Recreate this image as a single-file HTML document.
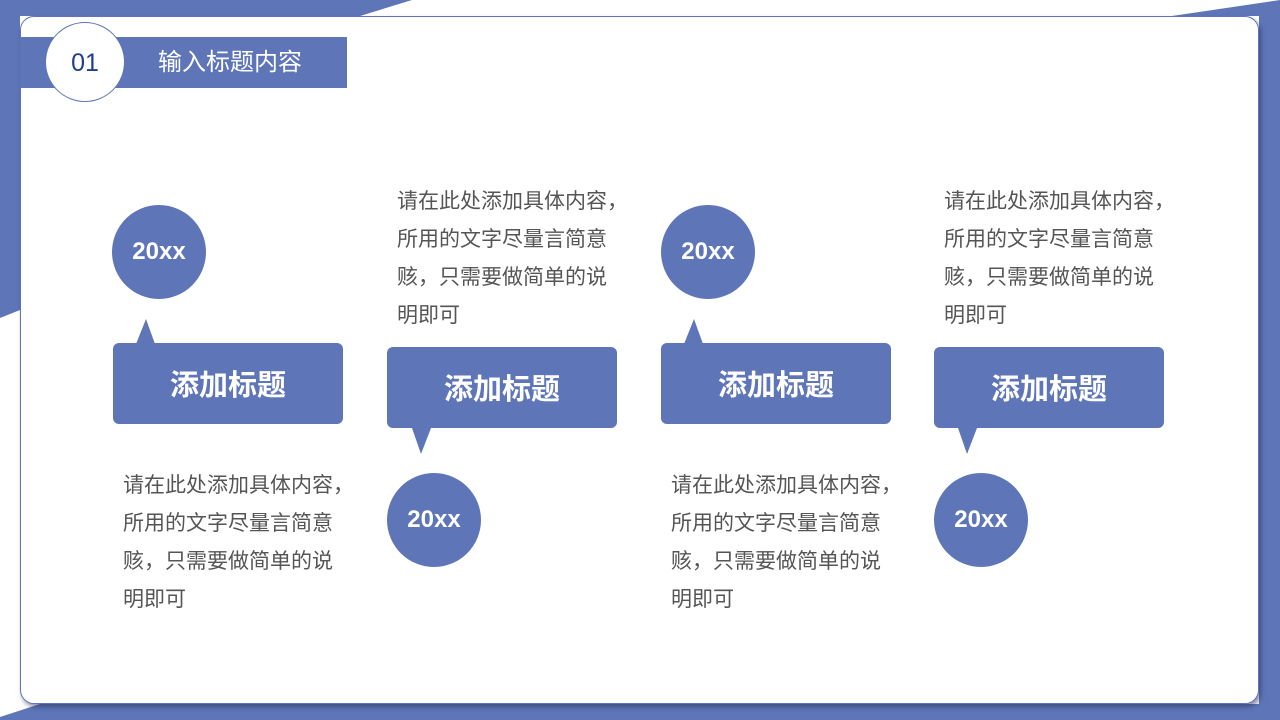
<!DOCTYPE html>
<html><head><meta charset="utf-8"><style>
body{margin:0;width:1280px;height:720px;position:relative;overflow:hidden;background:#fff;font-family:"Liberation Sans","Noto Sans CJK SC",sans-serif}
.a{position:absolute}
.card{left:20px;top:16px;width:1239px;height:688px;background:#fff;border-radius:14px;box-shadow:2px 3px 5px rgba(40,50,90,.55);border:1px solid #5d74b8;box-sizing:border-box}
.box{position:absolute;width:230px;height:81px;background:#5e75b8;border-radius:6px;color:#fff;font-weight:bold;font-size:29px;text-align:center;line-height:86px}
.c{position:absolute;width:94px;height:94px;border-radius:50%;background:#5e75b8;color:#fff;font-weight:bold;font-size:24px;text-align:center;line-height:94px}
.t{position:absolute;font-size:21px;color:#555;line-height:38px;width:250px;font-family:"Noto Sans CJK SC",sans-serif}
</style></head><body>
<svg class="a" style="left:0;top:0" width="1280" height="720">
<polygon points="0,0 412,0 360,16 20,16 20,310 0,318" fill="#5e75b8"/>
<polygon points="1172,16 1280,0 1280,720 0,720 0,717 40,704 1259,704 1259,16" fill="#5e75b8"/>
</svg>
<div class="a card"></div>
<div class="a" style="left:20px;top:37px;width:327px;height:51px;background:#5e75b8"></div>
<div class="a" style="left:45px;top:22px;width:78px;height:78px;border-radius:50%;background:#fff;border:1.5px solid #5e75b8;color:#1f3f86;font-size:25px;text-align:center;line-height:80px">01</div>
<div class="a" style="left:158px;top:48px;color:#fff;font-size:24px;line-height:30px">输入标题内容</div>

<svg class="a" style="left:0;top:0" width="1280" height="720">
<polygon points="136,344 155,344 146,319" fill="#5e75b8"/>
<polygon points="412,428 431,428 421,454" fill="#5e75b8"/>
<polygon points="684,344 703,344 694,319" fill="#5e75b8"/>
<polygon points="958,428 977,428 967,454" fill="#5e75b8"/>
</svg>
<div class="box" style="left:113px;top:343px">添加标题</div>
<div class="box" style="left:387px;top:347px">添加标题</div>
<div class="box" style="left:661px;top:343px">添加标题</div>
<div class="box" style="left:934px;top:347px">添加标题</div>
<div class="c" style="left:112px;top:205px">20xx</div>
<div class="c" style="left:387px;top:473px">20xx</div>
<div class="c" style="left:661px;top:205px">20xx</div>
<div class="c" style="left:934px;top:473px">20xx</div>
<div class="t" style="left:123px;top:465px">请在此处添加具体内容，<br>所用的文字尽量言简意<br>赅，只需要做简单的说<br>明即可</div>
<div class="t" style="left:397px;top:181px">请在此处添加具体内容，<br>所用的文字尽量言简意<br>赅，只需要做简单的说<br>明即可</div>
<div class="t" style="left:671px;top:465px">请在此处添加具体内容，<br>所用的文字尽量言简意<br>赅，只需要做简单的说<br>明即可</div>
<div class="t" style="left:944px;top:181px">请在此处添加具体内容，<br>所用的文字尽量言简意<br>赅，只需要做简单的说<br>明即可</div>
</body></html>
